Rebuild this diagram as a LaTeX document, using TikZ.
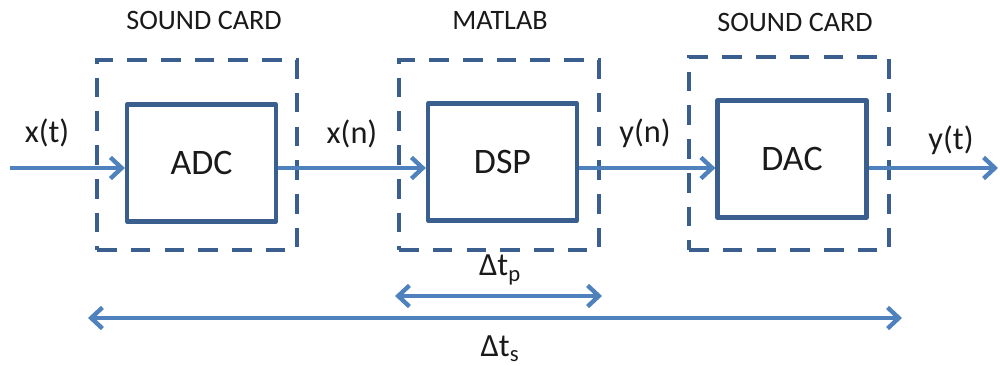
\documentclass[tikz,border=0pt]{standalone}
\usepackage{fontspec}
\setmainfont{Carlito}
\usetikzlibrary{arrows.meta}
\definecolor{arrblue}{HTML}{4F81BD}
\definecolor{boxblue}{HTML}{3A5F8F}
\definecolor{txt}{HTML}{1A1A1A}
\begin{document}
\begin{tikzpicture}[x=0.711pt,y=-0.711pt,
  solidbox/.style={draw=boxblue,line width=3pt,line join=round,minimum width=149*0.711pt,minimum height=117*0.711pt,inner sep=0pt,font=\fontsize{25.5}{28}\selectfont,text=txt},
  dashbox/.style={draw=boxblue,line width=3.1pt,dash pattern=on 14pt off 10pt,minimum width=200*0.711pt,minimum height=190*0.711pt,inner sep=0pt},
  sig/.style={draw=arrblue,line width=3.1pt,-{Straight Barb[length=8pt,width=15pt,line width=3.1pt]}},
  dbl/.style={draw=arrblue,line width=3.1pt,{Straight Barb[length=8pt,width=15pt,line width=3.1pt]}-{Straight Barb[length=8pt,width=15pt,line width=3.1pt]}},
  lbl/.style={font=\fontsize{23}{26}\selectfont,text=txt},
  ttl/.style={font=\fontsize{20}{23}\selectfont,text=txt}]
\useasboundingbox (0,0) rectangle (1000,366);
% dashed boxes
\node[dashbox] (d1) at (197,155) {};
\node[dashbox] (d2) at (499,155) {};
\node[dashbox, minimum height=193*0.711pt] (d3) at (789,153.5) {};
% titles
\node[ttl] (t1) at (204,20) {SOUND CARD};
\node[ttl] (t2) at (500,20) {MATLAB};
\node[ttl] (t3) at (795,22) {SOUND CARD};
% solid boxes
\node[solidbox] (adc) at (201.5,163) {ADC};
\node[solidbox] (dsp) at (502.5,162) {DSP};
\node[solidbox] (dac) at (792,159) {DAC};
% signals
\coordinate (in) at (10,168);
\coordinate (out) at (998,168);
\draw[sig] (in) -- (adc.west |- in);
\draw[sig] (adc.east |- in) -- (dsp.west |- in);
\draw[sig] (dsp.east |- in) -- (dac.west |- in);
\draw[sig] (dac.east |- in) -- (out);
% labels
\node[lbl] (lxt) at (47,133) {x(t)};
\node[lbl] (lxn) at (352,134) {x(n)};
\node[lbl] (lyn) at (645,133) {y(n)};
\node[lbl] (lyt) at (951,140) {y(t)};
% time spans
\coordinate (p1) at (395,296);
\coordinate (p2) at (602,296);
\draw[dbl] (p1) -- (p2);
\node[lbl] (ltp) at (500,270) {Δt\textsubscript{p}};
\coordinate (s1) at (88,318);
\coordinate (s2) at (902,318);
\draw[dbl] (s1) -- (s2);
\node[lbl] (lts) at (500,349) {Δt\textsubscript{s}};
\end{tikzpicture}
\end{document}
